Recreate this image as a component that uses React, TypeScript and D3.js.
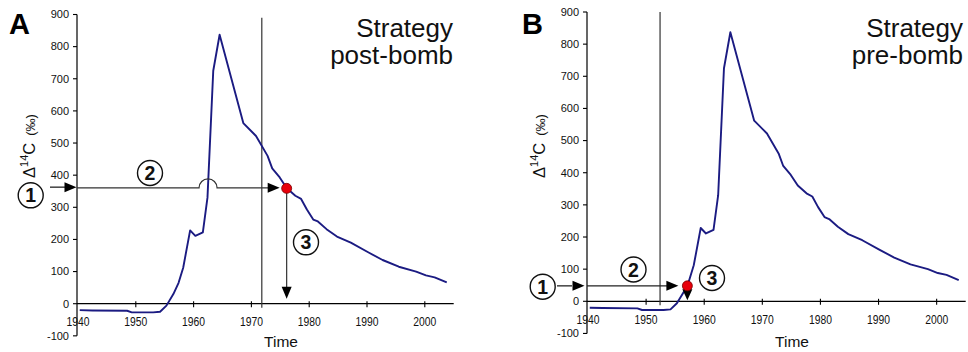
import React from "react";
import * as d3 from "d3";

const years = [1940.3, 1942.5, 1948.5, 1949.3, 1953, 1954.2, 1955.3, 1956.5, 1957.4, 1958.2, 1959.4, 1960.3, 1961.6, 1962.4, 1963.4, 1964.5, 1968.6, 1970.8, 1972.8, 1973.6, 1974.9, 1976.1, 1977.6, 1978.6, 1979.6, 1980.7, 1981.5, 1983, 1984.8, 1987.2, 1990.2, 1992.7, 1995.5, 1998.5, 2000.2, 2001.7, 2003.8];
const d14c = [-20, -21, -22, -27, -27, -25, -6, 30, 65, 112, 228, 211, 222, 330, 725, 837, 562, 522, 460, 421, 393, 360, 336, 326, 293, 262, 256, 232, 209, 190, 160, 136, 115, 100, 88, 82, 66];
const yTicks = [-100, 0, 100, 200, 300, 400, 500, 600, 700, 800, 900];
const xTicks = [1940, 1950, 1960, 1970, 1980, 1990, 2000];
const panelLetters = ["A", "B"];
const strategyLines = [["Strategy", "post-bomb"], ["Strategy", "pre-bomb"]];
const cutYears = [1971.8, 1952.4];
const dotYears = [1976.1, 1957.1];
const dotValues = [359, 48];

const FONT = "Liberation Sans, Arial, Helvetica, sans-serif";
const CURVE = "#1b1b82";

type PanelCfg = {
  x0: number; x1: number; yTop: number; yZero: number; letterX: number;
  strategyX: number; timeX: number;
};
const cfgs: PanelCfg[] = [
  { x0: 78, x1: 453.7, yTop: 14.5, yZero: 303.7, letterX: 9, strategyX: 453, timeX: 281 },
  { x0: 588, x1: 965.7, yTop: 12, yZero: 301.3, letterX: 522, strategyX: 963, timeX: 792 },
];

function arrowHead(tipX: number, tipY: number, dir: "right" | "down", len = 12, hw = 5) {
  if (dir === "right") return `${tipX},${tipY} ${tipX - len},${tipY - hw} ${tipX - len},${tipY + hw}`;
  return `${tipX},${tipY} ${tipX - hw},${tipY - len} ${tipX + hw},${tipY - len}`;
}

function NumCircle({ cx, cy, n }: { cx: number; cy: number; n: string }) {
  return (
    <g>
      <circle cx={cx} cy={cy} r={12.5} fill="white" stroke="#111" strokeWidth={1.4} />
      <text x={cx} y={cy + 7} textAnchor="middle" fontFamily={FONT} fontWeight="bold" fontSize={19.5} fill="#111">{n}</text>
    </g>
  );
}

function Panel({ i }: { i: number }) {
  const c = cfgs[i];
  const x = d3.scaleLinear().domain([1940, 2005]).range([c.x0, c.x1]);
  const y = d3.scaleLinear().domain([0, 900]).range([c.yZero, c.yTop]);
  const line = d3.line<number>().x((_, k) => x(years[k])).y((v) => y(v));
  const dx = x(dotYears[i]);
  const dy = y(dotValues[i]);
  const cutX = x(cutYears[i]);
  const yAxisX = x(1940) - 1;

  return (
    <g>
      <text x={c.letterX} y={34} fontFamily={FONT} fontWeight="bold" fontSize={29} fill="#000">{panelLetters[i]}</text>
      {strategyLines[i].map((t, k) => (
        <text key={t} x={c.strategyX} y={36.5 + k * 27.5} textAnchor="end" fontFamily={FONT} fontSize={26} fill="#111">{t}</text>
      ))}
      {/* y axis */}
      <line x1={yAxisX} x2={yAxisX} y1={y(900)} y2={y(-100)} stroke="#000" strokeWidth={1.2} />
      {yTicks.map((t) => (
        <g key={t}>
          <line x1={yAxisX - 4} x2={yAxisX} y1={y(t)} y2={y(t)} stroke="#000" strokeWidth={1.1} />
          <text x={yAxisX - 8} y={y(t) + 3.8} textAnchor="end" fontFamily={FONT} fontSize={11} fill="#111">{t}</text>
        </g>
      ))}
      {/* x axis */}
      <line x1={yAxisX} x2={x(2005)} y1={y(0)} y2={y(0)} stroke="#000" strokeWidth={1.2} />
      {xTicks.map((t) => (
        <g key={t}>
          {t > 1940 && <line x1={x(t)} x2={x(t)} y1={y(0) - 2.5} y2={y(0) + 3.5} stroke="#000" strokeWidth={1.1} />}
          <text x={x(t)} y={y(0) + 22.5} textAnchor="middle" fontFamily={FONT} fontSize={12.5} textLength={23} lengthAdjust="spacingAndGlyphs" fill="#111">{t}</text>
        </g>
      ))}
      <text x={c.timeX} y={346.5} textAnchor="middle" fontFamily={FONT} fontSize={15.5} fill="#111">Time</text>
      <text transform={`translate(${yAxisX - 42},146) rotate(-90)`} textAnchor="middle" fontFamily={FONT} fontSize={16.5} fill="#111">
        Δ<tspan fontSize={11} dy={-7}>14</tspan><tspan dy={7}>C</tspan>
        <tspan fontSize={13} dx={7}>(‰)</tspan>
      </text>
      {/* cut line */}
      <line x1={cutX} x2={cutX} y1={i === 0 ? y(890) : y(900)} y2={y(0) + 4} stroke="#333" strokeWidth={1.2} />
      {/* curve */}
      <path d={line(d14c) || ""} fill="none" stroke={CURVE} strokeWidth={1.9} strokeLinejoin="round" />
      {/* annotations */}
      {i === 0 ? (
        <g>
          <line x1={50} x2={66} y1={dy - 1.2} y2={dy - 1.2} stroke="#111" strokeWidth={1.2} />
          <polygon points={arrowHead(76.5, dy - 1.2, "right")} fill="#000" />
          <path d={`M${yAxisX},${dy - 0.5} L${x(1962.5) - 9},${dy - 0.5} A9,9 0 0 1 ${x(1962.5) + 9},${dy - 0.5} L${dx - 14},${dy - 0.5}`} fill="none" stroke="#333" strokeWidth={1.2} />
          <polygon points={arrowHead(dx - 7, dy - 0.5, "right")} fill="#000" />
          <line x1={dx} x2={dx} y1={dy} y2={y(0) - 14} stroke="#333" strokeWidth={1.2} />
          <polygon points={arrowHead(dx, y(0) - 5, "down")} fill="#000" />
          <NumCircle cx={30.7} cy={195.3} n="1" />
          <NumCircle cx={150} cy={173} n="2" />
          <NumCircle cx={306} cy={242.3} n="3" />
        </g>
      ) : (
        <g>
          <line x1={557} x2={572} y1={dy} y2={dy} stroke="#111" strokeWidth={1.2} />
          <polygon points={arrowHead(584.5, dy, "right")} fill="#000" />
          <line x1={yAxisX} x2={dx - 18} y1={dy} y2={dy} stroke="#222" strokeWidth={1.2} />
          <polygon points={arrowHead(dx - 9, dy, "right")} fill="#000" />
          <polygon points={arrowHead(dx, y(0) - 1, "down", 11, 5)} fill="#000" />
          <NumCircle cx={542.7} cy={286.7} n="1" />
          <NumCircle cx={633.5} cy={269.5} n="2" />
          <NumCircle cx={712} cy={278} n="3" />
        </g>
      )}
      <circle cx={dx} cy={dy} r={5} fill="#e8000b" stroke="#7a0000" strokeWidth={0.8} />
    </g>
  );
}

export default function App() {
  return (
    <svg width={968} height={352} viewBox="0 0 968 352" style={{ position: "absolute", left: 0, top: 0, background: "#fff" }}>
      <rect width={968} height={352} fill="#fff" />
      <Panel i={0} />
      <Panel i={1} />
    </svg>
  );
}
